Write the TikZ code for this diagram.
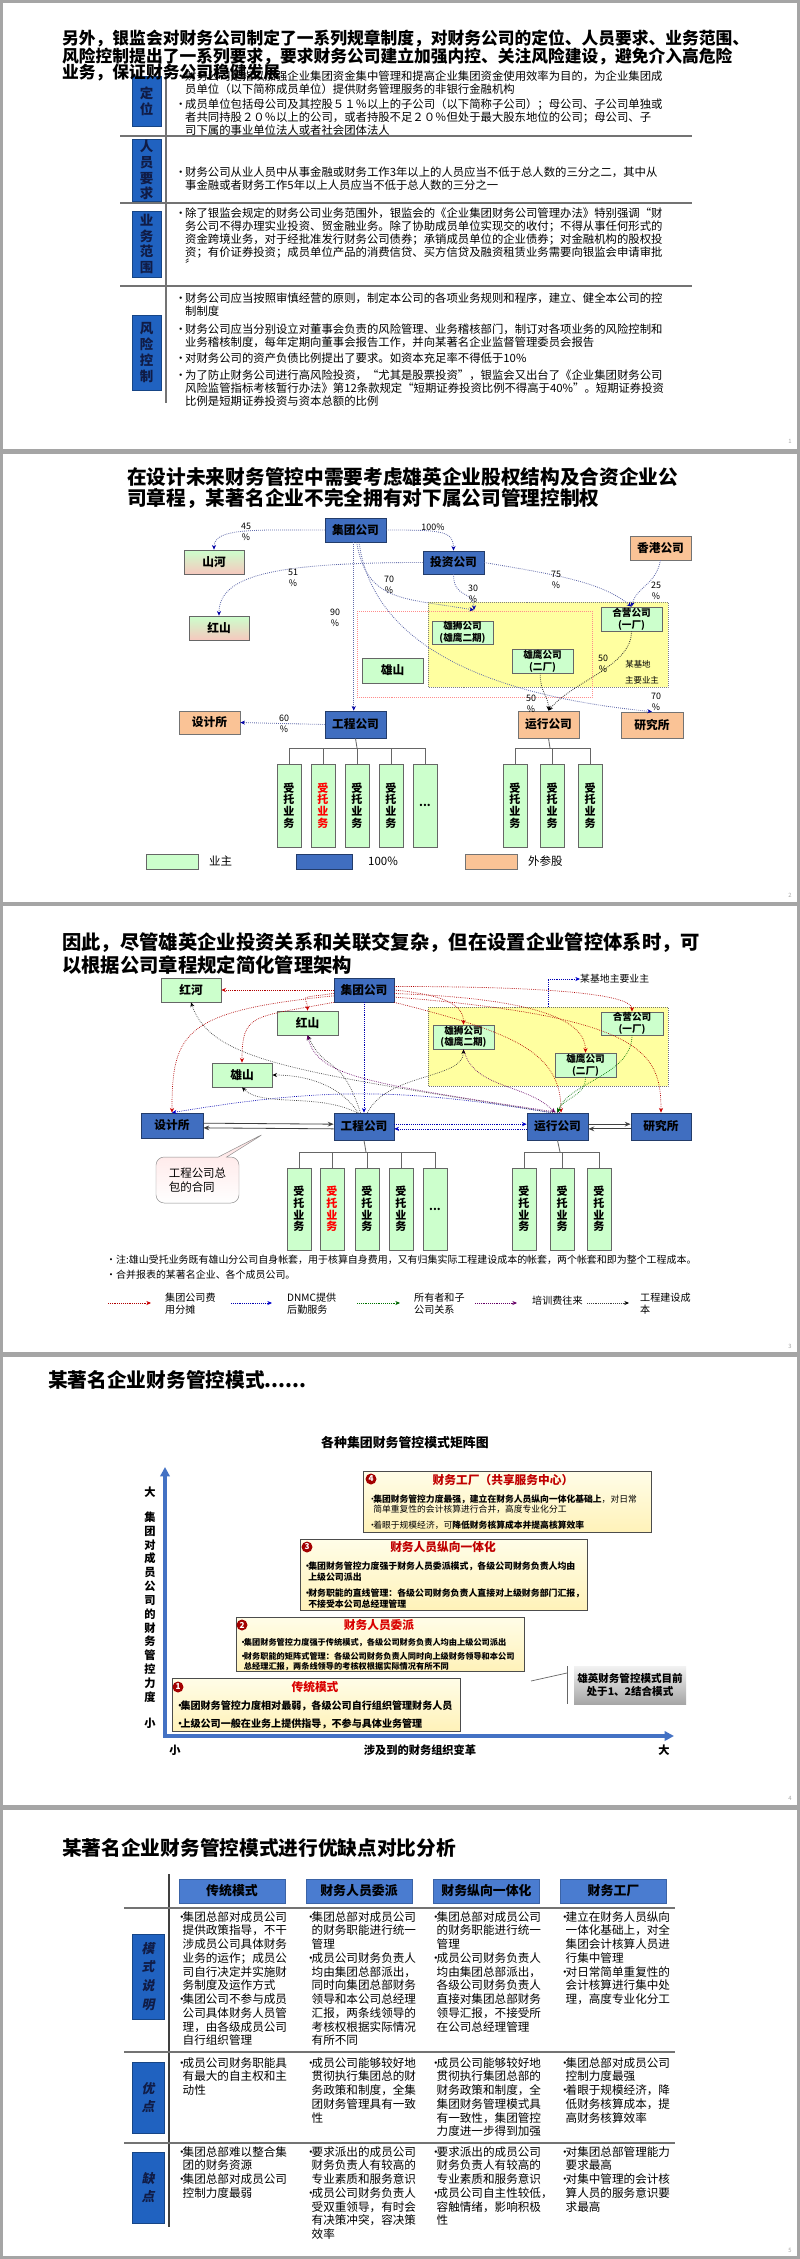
\documentclass[tikz,border=0pt]{standalone}
\usepackage{fontspec}
\setmainfont{Noto Sans CJK SC}
\newfontfamily\slcjk{Noto Sans CJK SC}[FakeSlant=0.2]
\usetikzlibrary{arrows.meta, positioning, shapes.callouts, calc}

\newcommand{\upx}{0.3mm}
\newcommand{\fsz}[2]{\fontsize{#1}{#2}\selectfont}
\newcommand{\bul}[1]{\makebox[#1][l]{•}}
\newcommand{\ind}[1]{\hspace*{#1}}

\definecolor{framegray}{RGB}{165,165,165}
\definecolor{lblue}{RGB}{32,98,192}
\definecolor{nblue}{RGB}{64,110,192}
\definecolor{hblue}{RGB}{74,124,208}
\definecolor{lgreen}{RGB}{204,255,204}
\definecolor{lorange}{RGB}{250,195,150}
\definecolor{lyellow}{RGB}{255,255,160}
\definecolor{lpink}{RGB}{246,200,190}
\definecolor{dred}{RGB}{192,0,0}
\definecolor{axblue}{RGB}{68,114,196}
\definecolor{arrblue}{RGB}{96,106,170}
\definecolor{navytxt}{RGB}{16,28,70}
\definecolor{creamtop}{RGB}{255,253,232}
\definecolor{creambot}{RGB}{255,242,185}

\begin{document}
\begin{tikzpicture}[x=0.3mm, y=-0.3mm,
  sz/.style 2 args={minimum width=#1*\upx, minimum height=#2*\upx},
  title/.style={anchor=west, inner sep=0, font=\fsz{16.8pt}{19pt}\bfseries},
  catbox/.style={fill=lblue, draw=lblue!70!black, inner sep=0, align=center,
                 text=navytxt, font=\fsz{11.5pt}{13.5pt}\bfseries},
  body/.style={anchor=north west, inner sep=0, align=left, font=\fsz{9.7pt}{11.05pt}},
  grid/.style={draw=black!55, line width=1pt},
  bluebox/.style={fill=nblue, draw=nblue!55!black, line width=0.6pt, inner sep=0,
                  align=center, font=\fsz{10pt}{12pt}\bfseries},
  greenbox/.style={fill=lgreen, draw=black!60, line width=0.6pt, inner sep=0,
                   align=center, font=\fsz{10pt}{12pt}\bfseries},
  gpbox/.style={top color=lgreen, bottom color=lpink, draw=black!60, line width=0.6pt,
                inner sep=0, align=center, font=\fsz{10pt}{12pt}\bfseries},
  orgbox/.style={fill=lorange, draw=black!55, line width=0.6pt, inner sep=0,
                 align=center, font=\fsz{10pt}{12pt}\bfseries},
  twoline/.style={font=\fsz{8.2pt}{10pt}\bfseries},
  trust/.style={fill=lgreen, draw=black!60, line width=0.6pt, inner sep=0, align=center,
                sz={24}{83}, font=\fsz{9.4pt}{10pt}\bfseries},
  tree/.style={draw=black!60, line width=0.7pt},
  pct/.style={inner sep=0, align=center, font=\fsz{7.6pt}{9.5pt}},
  own/.style={densely dotted, draw=arrblue, line width=0.7pt,
              -{Stealth[length=4pt, width=3.5pt, color=blue!65!black]}},
  ownk/.style={densely dotted, draw=black!80, line width=0.7pt,
               -{Stealth[length=4pt, width=3.5pt, color=black]}},
  feeline/.style={densely dotted, draw=red!70!black, line width=0.6pt,
                  -{Stealth[length=4pt, width=3.5pt, color=red!80!black]}},
  dnmcline/.style={densely dotted, draw=blue!70!black, line width=0.6pt,
                   -{Stealth[length=4pt, width=3.5pt, color=blue!80!black]}},
  ownline/.style={densely dotted, draw=green!45!black, line width=0.6pt,
                  -{Stealth[length=4pt, width=3.5pt, color=green!40!black]}},
  trainline/.style={densely dotted, draw=violet!80!black, line width=0.6pt,
                    -{Stealth[length=4pt, width=3.5pt, color=violet!80!black]}},
  costline/.style={densely dotted, draw=black!75, line width=0.6pt,
                   -{Stealth[length=4pt, width=3.5pt, color=black]}},
  twoway/.style={draw=black!75, line width=0.7pt, -{Stealth[length=5pt, width=4pt]}},
  note/.style={anchor=west, inner sep=0, font=\fsz{8.5pt}{10pt}},
  legtxt/.style={anchor=west, inner sep=0, align=left, font=\fsz{8.6pt}{10.2pt}},
  mbox/.style={top color=creamtop, bottom color=creambot, draw=black!70, line width=0.8pt,
               inner sep=0},
  mnum/.style={circle, fill=dred!85!black, text=white, inner sep=0, minimum size=11*\upx,
               font=\fsz{7pt}{7pt}\bfseries},
  mhead/.style={inner sep=0, text=dred, font=\fsz{10pt}{12pt}\bfseries},
  mtext/.style={anchor=north west, inner sep=0, align=left},
  axis/.style={draw=axblue, line width=3pt, -{Triangle[length=8pt, width=8pt]}},
  axlbl/.style={inner sep=0, align=center, font=\fsz{9.6pt}{11.8pt}\bfseries},
  hdr/.style={fill=hblue, draw=hblue!80!black, inner sep=0, sz={106}{24},
              font=\fsz{11pt}{13pt}\bfseries},
  rowlbl/.style={fill=lblue, draw=lblue!70!black, inner sep=0, align=center, text=navytxt,
                 font=\slcjk\fsz{11pt}{16pt}\bfseries},
  cell/.style={anchor=north west, inner sep=0, align=left, font=\fsz{9.9pt}{11.75pt}},
  pagenum/.style={inner sep=0, text=black!35, font=\fsz{5pt}{5pt}},
]
\useasboundingbox (0,0) rectangle (800,2259);

% ---- pages ----
\fill[framegray] (0,0) rectangle (800,2259);
\foreach \ya/\yb in {3/449, 454/902, 906/1352, 1357/1805, 1810/2256}
  \fill[white] (3,\ya) rectangle (797,\yb);
\node[pagenum] (pg1) at (790,441) {1};
\node[pagenum] (pg2) at (790,895) {2};
\node[pagenum] (pg3) at (790,1346) {3};
\node[pagenum] (pg4) at (790,1798) {4};
\node[pagenum] (pg5) at (790,2250) {5};

% =================== page 1 ===================
\draw[grid] (166,75) -- (166,403);
\draw[grid] (120,136) -- (692,136);
\draw[grid] (120,203) -- (692,203);
\draw[grid] (120,286) -- (692,286);

\node[catbox, sz={29}{50}] (dw) at (146.5,101) {定\\位};
\node[catbox, sz={29}{62}] (ry) at (146.5,170) {人\\员\\要\\求};
\node[catbox, sz={29}{66}] (yw) at (146.5,244) {业\\务\\范\\围};
\node[catbox, sz={29}{75}] (fx) at (146.5,352.5) {风\\险\\控\\制};

\node[body] (dwtxt) at (175,70.3) {\bul{8.5pt}财务公司是指以加强企业集团资金集中管理和提高企业集团资金使用效率为目的，为企业集团成\\
\ind{8.5pt}员单位（以下简称成员单位）提供财务管理服务的非银行金融机构\\[2pt]
\bul{8.5pt}成员单位包括母公司及其控股５１％以上的子公司（以下简称子公司）；母公司、子公司单独或\\
\ind{8.5pt}者共同持股２０％以上的公司，或者持股不足２０％但处于最大股东地位的公司；母公司、子\\
\ind{8.5pt}司下属的事业单位法人或者社会团体法人};

\node[body] (rytxt) at (175,166.3) {\bul{8.5pt}财务公司从业人员中从事金融或财务工作3年以上的人员应当不低于总人数的三分之二，其中从\\
\ind{8.5pt}事金融或者财务工作5年以上人员应当不低于总人数的三分之一};

\node[body] (ywtxt) at (175,207.3) {\bul{8.5pt}除了银监会规定的财务公司业务范围外，银监会的《企业集团财务公司管理办法》特别强调“财\\
\ind{8.5pt}务公司不得办理实业投资、贸金融业务。除了协助成员单位实现交的收付；不得从事任何形式的\\
\ind{8.5pt}资金跨境业务，对于经批准发行财务公司债券；承销成员单位的企业债券；对金融机构的股权投\\
\ind{8.5pt}资；有价证券投资；成员单位产品的消费信贷、买方信贷及融资租赁业务需要向银监会申请审批\\
\ind{8.5pt}〞};

\node[body] (fxtxt) at (175,292.3) {\bul{8.5pt}财务公司应当按照审慎经营的原则，制定本公司的各项业务规则和程序，建立、健全本公司的控\\
\ind{8.5pt}制制度\\[4.5pt]
\bul{8.5pt}财务公司应当分别设立对董事会负责的风险管理、业务稽核部门，制订对各项业务的风险控制和\\
\ind{8.5pt}业务稽核制度，每年定期向董事会报告工作，并向某著名企业监督管理委员会报告\\[3pt]
\bul{8.5pt}对财务公司的资产负债比例提出了要求。如资本充足率不得低于10\%\\[3pt]
\bul{8.5pt}为了防止财务公司进行高风险投资，“尤其是股票投资”，银监会又出台了《企业集团财务公司\\
\ind{8.5pt}风险监管指标考核暂行办法》第12条款规定“短期证券投资比例不得高于40\%”。短期证券投资\\
\ind{8.5pt}比例是短期证券投资与资本总额的比例};

\node[title, font=\fsz{14.3pt}{17pt}\bfseries] (t1a) at (62,38) {另外，银监会对财务公司制定了一系列规章制度，对财务公司的定位、人员要求、业务范围、};
\node[title, font=\fsz{14.3pt}{17pt}\bfseries] (t1b) at (62,56) {风险控制提出了一系列要求，要求财务公司建立加强内控、关注风险建设，避免介入高危险};
\node[title, font=\fsz{14.3pt}{17pt}\bfseries] (t1c) at (62,73) {业务，保证财务公司稳健发展};

% =================== page 2 ===================
\node[title] (t2a) at (127,477) {在设计未来财务管控中需要考虑雄英企业股权结构及合资企业公};
\node[title] (t2b) at (127,498) {司章程，某著名企业不完全拥有对下属公司管理控制权};

% base area
\draw[densely dotted, draw=black!50, fill=lyellow, line width=0.7pt] (428,602) rectangle (668,687);
\draw[densely dotted, draw=red!45, line width=0.7pt] (357,611) rectangle (592,697);

\node[bluebox, sz={61}{24}] (jt2) at (355.5,530) {集团公司};
\node[bluebox, sz={61}{23}] (tz2) at (453.5,562.5) {投资公司};
\node[gpbox, sz={60}{24}] (sh2) at (214,562) {山河};
\node[gpbox, sz={60}{24}] (hs2) at (219,628) {红山};
\node[orgbox, sz={61}{24}] (xg2) at (660.5,548) {香港公司};
\node[greenbox, twoline, sz={61}{23}] (xsh2) at (462.5,632.5) {雄狮公司\\(雄鹰二期)};
\node[greenbox, twoline, sz={61}{24}] (xy2) at (542.5,661) {雄鹰公司\\(二厂)};
\node[greenbox, twoline, sz={61}{24}] (hy2) at (631.5,619) {合营公司\\(一厂)};
\node[greenbox, sz={61}{25}] (xs2) at (392.5,670.5) {雄山};
\node[inner sep=0, font=\fsz{7.2pt}{8pt}] (jd2a) at (638,664) {某基地};
\node[inner sep=0, font=\fsz{7.2pt}{8pt}] (jd2b) at (642,680) {主要业主};
\node[bluebox, sz={61}{27}] (gc2) at (355.5,724.5) {工程公司};
\node[orgbox, sz={61}{23}] (sj2) at (209.5,722.5) {设计所};
\node[orgbox, sz={61}{27}] (yx2) at (548.5,724.5) {运行公司};
\node[orgbox, sz={62}{26}] (yj2) at (652,725) {研究所};

% shareholding links
\draw[own] (jt2.west) .. controls +(-70,0) and +(0,-22) .. (sh2.north);
\node[pct] (p2a) at (246,532) {45\\\%};
\draw[own] (jt2.east) .. controls +(55,0) and +(0,-20) .. (tz2.north);
\node[pct] (p2b) at (433,527) {100\%};
\draw[own] (tz2.west) .. controls +(-150,0) and +(0,-40) .. (hs2.north);
\node[pct] (p2c) at (293,578) {51\\\%};
\draw[own] (tz2.east) .. controls +(70,12) and +(-30,-25) .. (hy2.north);
\node[pct] (p2d) at (556,580) {75\\\%};
\draw[own] (xg2.south) .. controls +(-5,25) and +(5,-20) .. (hy2.north);
\node[pct] (p2e) at (656,591) {25\\\%};
\coordinate (c30) at (474,610);
\draw[own] (tz2.south) .. controls +(0,25) and +(0,-20) .. (c30);
\node[pct] (p2f) at (473,594) {30\\\%};
\draw[own] ([xshift=1pt]jt2.south) .. controls +(10,60) and +(-70,-12) .. (c30);
\node[pct] (p2g) at (389,585) {70\\\%};
\draw[own] ([xshift=-1.5pt]jt2.south) -- ([xshift=-1.5pt]gc2.north);
\node[pct] (p2h) at (335,618) {90\\\%};
\draw[own] ([xshift=3pt]jt2.south) .. controls +(15,110) and +(-150,-15) .. (yj2.north);
\node[pct] (p2i) at (656,702) {70\\\%};
\draw[ownk] (hy2.south) .. controls +(0,35) and +(25,-30) .. (yx2.north);
\node[pct] (p2j) at (603,664) {50\\\%};
\draw[ownk] ([xshift=-2pt]xy2.south) .. controls +(0,20) and +(0,-15) .. (yx2.north);
\node[pct] (p2k) at (531,704) {50\\\%};
\draw[own] (gc2.west) -- (sj2.east);
\node[pct] (p2l) at (284,724) {60\\\%};

% entrusted business
\draw[tree] (gc2.south) -- (357,748);
\draw[tree] (289,748) -- (425,748);
\foreach \x/\nm in {289/g2a, 323/g2b, 357/g2c, 391/g2d, 425/g2e}
  \draw[tree] (\x,748) -- (\x,764);
\node[trust] (g2a) at (289,805.5) {受\\托\\业\\务};
\node[trust, text=red] (g2b) at (323,805.5) {受\\托\\业\\务};
\node[trust] (g2c) at (357,805.5) {受\\托\\业\\务};
\node[trust] (g2d) at (391,805.5) {受\\托\\业\\务};
\node[trust] (g2e) at (425,805.5) {...};
\draw[tree] (yx2.south) -- (550,748);
\draw[tree] (515,748) -- (590,748);
\foreach \x in {515,552,590}
  \draw[tree] (\x,748) -- (\x,764);
\node[trust] (y2a) at (515,805.5) {受\\托\\业\\务};
\node[trust] (y2b) at (552,805.5) {受\\托\\业\\务};
\node[trust] (y2c) at (590,805.5) {受\\托\\业\\务};

% legend
\node[greenbox, sz={52}{15}] (lg2a) at (172,861.5) {};
\node[legtxt, font=\fsz{9.8pt}{11pt}] (lt2a) at (209,861) {业主};
\node[bluebox, sz={56}{15}] (lg2b) at (324,861.5) {};
\node[legtxt, font=\fsz{9.8pt}{11pt}] (lt2b) at (368,861) {100\%};
\node[orgbox, sz={52}{15}] (lg2c) at (491,861.5) {};
\node[legtxt, font=\fsz{9.8pt}{11pt}] (lt2c) at (528,861) {外参股};

% =================== page 3 ===================
\node[title, font=\fsz{16.5pt}{19pt}\bfseries] (t3a) at (62,943) {因此，尽管雄英企业投资关系和关联交复杂，但在设置企业管控体系时，可};
\node[title, font=\fsz{16.5pt}{19pt}\bfseries] (t3b) at (62,965) {以根据公司章程规定简化管理架构};

\draw[densely dotted, draw=black!55, fill=lyellow, line width=0.7pt] (428,1007) rectangle (668,1086);

\node[greenbox, sz={60}{24}] (hh3) at (191,990) {红河};
\node[bluebox, sz={60}{24}] (jt3) at (364,990) {集团公司};
\node[greenbox, sz={61}{24}] (hs3) at (307.5,1023) {红山};
\node[greenbox, sz={60}{24}] (xs3) at (242,1075) {雄山};
\node[greenbox, twoline, sz={61}{24}] (xsh3) at (463.5,1037) {雄狮公司\\(雄鹰二期)};
\node[greenbox, twoline, sz={62}{23}] (hy3) at (632,1023.5) {合营公司\\(一厂)};
\node[greenbox, twoline, sz={61}{24}] (xy3) at (585.5,1065) {雄鹰公司\\(二厂)};
\node[anchor=west, inner sep=0, font=\fsz{8.4pt}{10pt}] (jd3) at (580,979) {某基地主要业主};
\coordinate (jd3c) at (548,1007);
\draw[dnmcline] (jd3c) |- (jd3.west);

\node[bluebox, sz={62}{25}] (sj3) at (172,1125.5) {设计所};
\node[bluebox, sz={60}{27}] (gc3) at (364,1126.5) {工程公司};
\node[bluebox, sz={61}{27}] (yx3) at (557.5,1126.5) {运行公司};
\node[bluebox, sz={60}{27}] (yj3) at (661,1126.5) {研究所};

% two-way links
\draw[twoway] ([yshift=2pt]sj3.east) -- ([yshift=2pt]gc3.west);
\draw[twoway] ([yshift=-2pt]gc3.west) -- ([yshift=-2pt]sj3.east);
\draw[dnmcline] ([yshift=2pt]gc3.east) -- ([yshift=2pt]yx3.west);
\draw[dnmcline] ([yshift=-2pt]yx3.west) -- ([yshift=-2pt]gc3.east);
\draw[twoway] ([yshift=2pt]yx3.east) -- ([yshift=2pt]yj3.west);
\draw[twoway] ([yshift=-2pt]yj3.west) -- ([yshift=-2pt]yx3.east);

% cost sharing (red)
\draw[feeline] (jt3.west) -- (hh3.east);
\draw[feeline] ([yshift=-3pt]jt3.west) .. controls +(-40,5) and +(0,-15) .. (hs3.north);
\draw[feeline] (jt3.south west) .. controls +(-80,15) and +(0,-50) .. (xs3.north);
\draw[feeline] ([yshift=-5pt]jt3.west) .. controls +(-150,15) and +(0,-80) .. (sj3.north);
\draw[feeline] (jt3.east) .. controls +(50,5) and +(0,-20) .. (xsh3.north);
\draw[feeline] ([yshift=-3pt]jt3.east) .. controls +(150,5) and +(0,-30) .. (xy3.north);
\draw[feeline] ([yshift=3pt]jt3.east) .. controls +(180,0) and +(0,-15) .. (hy3.north);
\draw[feeline] ([yshift=-6pt]jt3.east) .. controls +(250,20) and +(0,-60) .. (yj3.north);
\draw[feeline] (jt3.south east) .. controls +(120,30) and +(0,-60) .. ([xshift=3pt]yx3.north);
% logistics (blue)
\draw[dnmcline] (jt3.south) -- (gc3.north);
\draw[dnmcline] ([xshift=-6pt]yx3.north) .. controls +(-150,-25) and +(150,-25) .. (sj3.north);
% construction cost (black)
\draw[costline] ([xshift=-3pt]gc3.north) .. controls +(-20,-60) and +(20,40) .. (hs3.south);
\draw[costline] ([xshift=-5pt]gc3.north) .. controls +(-20,-30) and +(30,0) .. (xs3.east);
\draw[costline] ([xshift=-6pt]gc3.north) .. controls +(-40,-20) and +(20,20) .. (xs3.south);
\draw[costline] ([xshift=3pt]gc3.north) .. controls +(20,-40) and +(0,30) .. (xsh3.south);
\draw[costline] ([xshift=-4pt]yx3.north) .. controls +(-250,-40) and +(20,60) .. (hh3.south);
% owner (green)
\draw[ownline] (xy3.south) .. controls +(0,20) and +(5,-15) .. (yx3.north);
\draw[ownline] (hy3.south) .. controls +(0,40) and +(10,-30) .. (yx3.north);
% training (purple)
\draw[trainline] ([xshift=2pt]yx3.north) .. controls +(-200,-30) and +(10,40) .. (hs3.south);
\draw[trainline] (xsh3.south) .. controls +(10,40) and +(-30,-30) .. ([xshift=-2pt]yx3.north);

% contract callout
\coordinate (cp3) at (265,1133);
\node[rectangle callout, callout absolute pointer={(cp3)}, rounded corners=7pt,
      top color=red!12, bottom color=white, draw=black!45, sz={83}{46}, inner sep=0,
      align=left, font=\fsz{9.8pt}{12.5pt}] (cb3) at (197.5,1180) {工程公司总\\包的合同};

% entrusted business
\draw[tree] (gc3.south) -- (366,1152);
\draw[tree] (299,1152) -- (435,1152);
\foreach \x in {299,332,367,401,435}
  \draw[tree] (\x,1152) -- (\x,1168);
\node[trust, sz={24}{82}] (g3a) at (299,1209) {受\\托\\业\\务};
\node[trust, sz={24}{82}, text=red] (g3b) at (332,1209) {受\\托\\业\\务};
\node[trust, sz={24}{82}] (g3c) at (367,1209) {受\\托\\业\\务};
\node[trust, sz={24}{82}] (g3d) at (401,1209) {受\\托\\业\\务};
\node[trust, sz={24}{82}] (g3e) at (435,1209) {...};
\draw[tree] (yx3.south) -- (560,1152);
\draw[tree] (524,1152) -- (599,1152);
\foreach \x in {524,562,599}
  \draw[tree] (\x,1152) -- (\x,1168);
\node[trust, sz={24}{82}] (y3a) at (524,1209) {受\\托\\业\\务};
\node[trust, sz={24}{82}] (y3b) at (562,1209) {受\\托\\业\\务};
\node[trust, sz={24}{82}] (y3c) at (599,1209) {受\\托\\业\\务};

\node[note] (n3a) at (106,1260) {•注:雄山受托业务既有雄山分公司自身帐套，用于核算自身费用，又有归集实际工程建设成本的帐套，两个帐套和即为整个工程成本。};
\node[note] (n3b) at (106,1275) {•合并报表的某著名企业、各个成员公司。};

% legend
\foreach \xa/\xb/\nm in {108/151/la, 231/272/lb, 357/400/lc, 475/517/ld, 587/629/le} {
  \coordinate (\nm1) at (\xa,1303);
  \coordinate (\nm2) at (\xb,1303);
}
\draw[feeline] (la1) -- (la2);
\draw[dnmcline] (lb1) -- (lb2);
\draw[ownline] (lc1) -- (lc2);
\draw[trainline] (ld1) -- (ld2);
\draw[costline] (le1) -- (le2);
\node[legtxt] (lt3a) at (165,1304) {集团公司费\\用分摊};
\node[legtxt] (lt3b) at (287,1304) {DNMC提供\\后勤服务};
\node[legtxt] (lt3c) at (414,1304) {所有者和子\\公司关系};
\node[legtxt] (lt3d) at (532,1301) {培训费往来};
\node[legtxt] (lt3e) at (640,1304) {工程建设成\\本};

% =================== page 4 ===================
\node[title] (t4) at (48,1380) {某著名企业财务管控模式......};
\node[inner sep=0, font=\fsz{11pt}{13pt}\bfseries] (st4) at (405,1443) {各种集团财务管控模式矩阵图};

\coordinate (o4) at (165,1736);
\coordinate (ytop4) at (165,1467);
\coordinate (xend4) at (674,1736);
\draw[axis] ([yshift=1.5pt]o4) -- (ytop4);
\draw[axis] ([xshift=-1.5pt]o4) -- (xend4);

\node[axlbl] (yb4) at (150,1492) {大};
\node[axlbl] (yl4) at (150,1607) {集\\团\\对\\成\\员\\公\\司\\的\\财\\务\\管\\控\\力\\度};
\node[axlbl] (ys4) at (150,1723) {小};
\node[axlbl] (xs4) at (175,1750) {小};
\node[axlbl] (xl4) at (420,1750) {涉及到的财务组织变革};
\node[axlbl] (xb4) at (664,1750) {大};

\node[mbox, sz={288}{61}] (m4) at (507,1501.5) {};
\node[mnum] (m4n) at (371,1479) {4};
\node[mhead] (m4h) at (503,1480) {财务工厂（共享服务中心）};
\node[mtext, font=\fsz{7.5pt}{8.5pt}] (m4t) at (368,1494.6) {\bul{4.3pt}\textbf{集团财务管控力度最强，建立在财务人员纵向一体化基础上}，对日常\\
\ind{4.3pt}简单重复性的会计核算进行合并，高度专业化分工\\[5pt]
\bul{4.3pt}着眼于规模经济，可\textbf{降低财务核算成本并提高核算效率}};

\node[mbox, sz={287}{71}] (m3) at (443.5,1574.5) {};
\node[mnum] (m3n) at (307,1547) {3};
\node[mhead] (m3h) at (443,1547) {财务人员纵向一体化};
\node[mtext, font=\fsz{7.6pt}{9.35pt}\bfseries] (m3t) at (303,1561.5) {\bul{4.3pt}集团财务管控力度强于财务人员委派模式，各级公司财务负责人均由\\
\ind{4.3pt}上级公司派出\\[4.2pt]
\bul{4.3pt}财务职能的直线管理：各级公司财务负责人直接对上级财务部门汇报，\\
\ind{4.3pt}不接受本公司总经理管理};

\node[mbox, sz={288}{54}] (m2) at (380,1644) {};
\node[mnum] (m2n) at (242,1625) {2};
\node[mhead, text=red!85!black] (m2h) at (379,1625) {财务人员委派};
\node[mtext, font=\fsz{7pt}{8.5pt}\bfseries] (m2t) at (239,1638.5) {\bul{4pt}集团财务管控力度强于传统模式，各级公司财务负责人均由上级公司派出\\[3.4pt]
\bul{4pt}财务职能的矩阵式管理：各级公司财务负责人同时向上级财务领导和本公司\\
\ind{4pt}总经理汇报，两条线领导的考核权根据实际情况有所不同};

\node[mbox, sz={288}{53}] (m1) at (316,1704.5) {};
\node[mnum] (m1n) at (178,1687) {1};
\node[mhead, text=red!85!black] (m1h) at (315,1687) {传统模式};
\node[mtext, font=\fsz{8.6pt}{10pt}\bfseries] (m1t) at (175,1701) {\bul{4.5pt}集团财务管控力度相对最弱，各级公司自行组织管理财务人员\\[5.3pt]
\bul{4.5pt}上级公司一般在业务上提供指导，不参与具体业务管理};

\node[top color=black!5, bottom color=black!35, inner sep=0, sz={112}{38}, align=center,
      font=\fsz{9pt}{11pt}\bfseries] (cl4) at (630,1685) {雄英财务管控模式目前\\处于1、2结合模式};
\coordinate (cl4a) at (567,1666);
\coordinate (cl4b) at (567,1704);
\coordinate (cl4c) at (531,1681);
\draw[draw=black!60, line width=0.6pt] (cl4a) -- (cl4b);
\draw[draw=black!60, line width=0.6pt] (cl4c) -- (567,1673);

% =================== page 5 ===================
\node[title] (t5) at (62,1848) {某著名企业财务管控模式进行优缺点对比分析};

\node[hdr] (h5a) at (232,1891) {传统模式};
\node[hdr] (h5b) at (359,1891) {财务人员委派};
\node[hdr] (h5c) at (486.5,1891) {财务纵向一体化};
\node[hdr] (h5d) at (613.5,1891) {财务工厂};

\draw[grid, draw=black!75] (169,1874) -- (169,2227);
\draw[grid] (124,1908) -- (675,1908);
\draw[grid] (124,2052) -- (675,2052);
\draw[grid] (124,2143) -- (675,2143);

\node[rowlbl, sz={32}{85}] (r5a) at (148,1976.5) {模\\式\\说\\明};
\node[rowlbl, sz={32}{71}] (r5b) at (148,2097.5) {优\\点};
\node[rowlbl, sz={32}{71}] (r5c) at (148,2187.5) {缺\\点};

% mode description
\node[cell] (c11) at (176,1911) {\bul{5.5pt}集团总部对成员公司\\
\ind{5.5pt}提供政策指导，不干\\
\ind{5.5pt}涉成员公司具体财务\\
\ind{5.5pt}业务的运作；成员公\\
\ind{5.5pt}司自行决定并实施财\\
\ind{5.5pt}务制度及运作方式\\
\bul{5.5pt}集团公司不参与成员\\
\ind{5.5pt}公司具体财务人员管\\
\ind{5.5pt}理，由各级成员公司\\
\ind{5.5pt}自行组织管理};
\node[cell] (c12) at (305,1911) {\bul{5.5pt}集团总部对成员公司\\
\ind{5.5pt}的财务职能进行统一\\
\ind{5.5pt}管理\\
\bul{5.5pt}成员公司财务负责人\\
\ind{5.5pt}均由集团总部派出，\\
\ind{5.5pt}同时向集团总部财务\\
\ind{5.5pt}领导和本公司总经理\\
\ind{5.5pt}汇报，两条线领导的\\
\ind{5.5pt}考核权根据实际情况\\
\ind{5.5pt}有所不同};
\node[cell] (c13) at (430,1911) {\bul{5.5pt}集团总部对成员公司\\
\ind{5.5pt}的财务职能进行统一\\
\ind{5.5pt}管理\\
\bul{5.5pt}成员公司财务负责人\\
\ind{5.5pt}均由集团总部派出，\\
\ind{5.5pt}各级公司财务负责人\\
\ind{5.5pt}直接对集团总部财务\\
\ind{5.5pt}领导汇报，不接受所\\
\ind{5.5pt}在公司总经理管理};
\node[cell] (c14) at (559,1911) {\bul{5.5pt}建立在财务人员纵向\\
\ind{5.5pt}一体化基础上，对全\\
\ind{5.5pt}集团会计核算人员进\\
\ind{5.5pt}行集中管理\\
\bul{5.5pt}对日常简单重复性的\\
\ind{5.5pt}会计核算进行集中处\\
\ind{5.5pt}理，高度专业化分工};

% advantages
\node[cell] (c21) at (176,2057) {\bul{5.5pt}成员公司财务职能具\\
\ind{5.5pt}有最大的自主权和主\\
\ind{5.5pt}动性};
\node[cell] (c22) at (305,2057) {\bul{5.5pt}成员公司能够较好地\\
\ind{5.5pt}贯彻执行集团总的财\\
\ind{5.5pt}务政策和制度，全集\\
\ind{5.5pt}团财务管理具有一致\\
\ind{5.5pt}性};
\node[cell] (c23) at (430,2057) {\bul{5.5pt}成员公司能够较好地\\
\ind{5.5pt}贯彻执行集团总部的\\
\ind{5.5pt}财务政策和制度，全\\
\ind{5.5pt}集团财务管理模式具\\
\ind{5.5pt}有一致性，集团管控\\
\ind{5.5pt}力度进一步得到加强};
\node[cell] (c24) at (559,2057) {\bul{5.5pt}集团总部对成员公司\\
\ind{5.5pt}控制力度最强\\
\bul{5.5pt}着眼于规模经济，降\\
\ind{5.5pt}低财务核算成本，提\\
\ind{5.5pt}高财务核算效率};

% disadvantages
\node[cell] (c31) at (176,2146) {\bul{5.5pt}集团总部难以整合集\\
\ind{5.5pt}团的财务资源\\
\bul{5.5pt}集团总部对成员公司\\
\ind{5.5pt}控制力度最弱};
\node[cell] (c32) at (305,2146) {\bul{5.5pt}要求派出的成员公司\\
\ind{5.5pt}财务负责人有较高的\\
\ind{5.5pt}专业素质和服务意识\\
\bul{5.5pt}成员公司财务负责人\\
\ind{5.5pt}受双重领导，有时会\\
\ind{5.5pt}有决策冲突，容决策\\
\ind{5.5pt}效率};
\node[cell] (c33) at (430,2146) {\bul{5.5pt}要求派出的成员公司\\
\ind{5.5pt}财务负责人有较高的\\
\ind{5.5pt}专业素质和服务意识\\
\bul{5.5pt}成员公司自主性较低，\\
\ind{5.5pt}容触情绪，影响积极\\
\ind{5.5pt}性};
\node[cell] (c34) at (559,2146) {\bul{5.5pt}对集团总部管理能力\\
\ind{5.5pt}要求最高\\
\bul{5.5pt}对集中管理的会计核\\
\ind{5.5pt}算人员的服务意识要\\
\ind{5.5pt}求最高};

\end{tikzpicture}
\end{document}
